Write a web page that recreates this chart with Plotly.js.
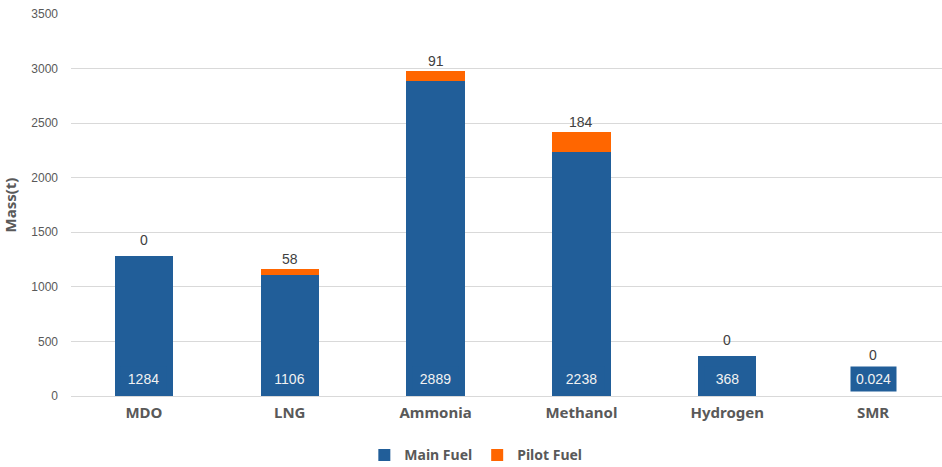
<!DOCTYPE html>
<html>
<head>
<meta charset="utf-8">
<script src="https://cdn.plot.ly/plotly-3.0.1.min.js"></script>
<style>
  html, body { margin: 0; padding: 0; background: #fff; overflow: hidden; }
  #chart { width: 942px; height: 467px; overflow: hidden; }
</style>
</head>
<body>
<div id="chart"></div>
<script>
// Fuel mass per propulsion option, in tonnes
const categories = ['MDO', 'LNG', 'Ammonia', 'Methanol', 'Hydrogen', 'SMR'];
const mainFuel  = [1284, 1106, 2889, 2238, 368, 0.024];
const pilotFuel = [0, 58, 91, 184, 0, 0];
const yTicks = [0, 500, 1000, 1500, 2000, 2500, 3000, 3500];

const BLUE = '#215E99';
const ORANGE = '#FF6600';
const GREY = '#595959';

// the plot runs a few pixels past the right edge of the page
const figWidth = 946;
const figHeight = 467;
const margin = {l: 71, r: 0, t: 14, b: 71};
const plotHeight = figHeight - margin.t - margin.b;
const yMax = 3500;
const pxPerUnit = plotHeight / yMax;

const numFont = {family: 'Liberation Sans, Arial, sans-serif', size: 14};

const BOX_SHIFT = 4;
const BOX_H = 22;

const annotations = [];
categories.forEach((cat, i) => {
  // main fuel value sits in a filled box near the base of each column
  annotations.push({
    x: cat, y: 0, xref: 'x', yref: 'y',
    text: String(mainFuel[i]),
    showarrow: false,
    yanchor: 'bottom', yshift: BOX_SHIFT,
    width: 43, height: BOX_H,
    bgcolor: BLUE, borderpad: 1,
    font: Object.assign({}, numFont, {color: '#F2F2F2'})
  });
  // pilot fuel value above the top of the stack (or above the value box)
  const total = mainFuel[i] + pilotFuel[i];
  const stackPx = total * pxPerUnit;
  const gap = pilotFuel[i] > 0 ? 10 : 16;
  const centerPx = Math.max(stackPx + gap, BOX_SHIFT + BOX_H + 2 + 13);
  annotations.push({
    x: cat, y: total, xref: 'x', yref: 'y',
    text: String(pilotFuel[i]),
    showarrow: false,
    yanchor: 'middle', yshift: centerPx - stackPx,
    font: Object.assign({}, numFont, {color: '#404040'})
  });
});

const traces = [
  {
    type: 'bar', name: 'Main Fuel', x: categories, y: mainFuel,
    marker: {color: BLUE}, hoverinfo: 'skip'
  },
  {
    type: 'bar', name: 'Pilot Fuel', x: categories, y: pilotFuel,
    marker: {color: ORANGE}, hoverinfo: 'skip'
  }
];

const layout = {
  width: figWidth, height: figHeight,
  margin: margin,
  barmode: 'stack',
  bargap: 0.6,
  paper_bgcolor: '#fff',
  plot_bgcolor: '#fff',
  showlegend: true,
  legend: {
    orientation: 'h',
    xref: 'container', yref: 'container',
    x: 0.503, xanchor: 'center',
    y: 0.025, yanchor: 'middle',
    font: {family: 'Noto Sans, sans-serif', size: 14, color: GREY, weight: 'bold'},
    itemwidth: 30,
    traceorder: 'normal'
  },
  xaxis: {
    type: 'category',
    showgrid: false,
    showline: false,
    ticks: '',
    tickfont: {family: 'Noto Sans, sans-serif', size: 15, color: GREY, weight: 'bold'},
    ticklabelstandoff: 6
  },
  yaxis: {
    range: [0, yMax],
    tickvals: yTicks,
    ticktext: yTicks.map(String),
    showgrid: true,
    gridcolor: '#D9D9D9',
    gridwidth: 1,
    zeroline: true,
    zerolinecolor: '#D9D9D9',
    zerolinewidth: 1,
    showline: false,
    ticks: '',
    ticklabelstandoff: 12,
    tickfont: {family: 'Liberation Sans, Arial, sans-serif', size: 12, color: GREY},
    title: {
      text: 'Mass(t)',
      font: {family: 'Noto Sans, sans-serif', size: 15, color: GREY, weight: 'bold'},
      standoff: 12
    }
  },
  annotations: annotations
};

Plotly.newPlot('chart', traces, layout, {staticPlot: true, displayModeBar: false});
</script>
</body>
</html>
